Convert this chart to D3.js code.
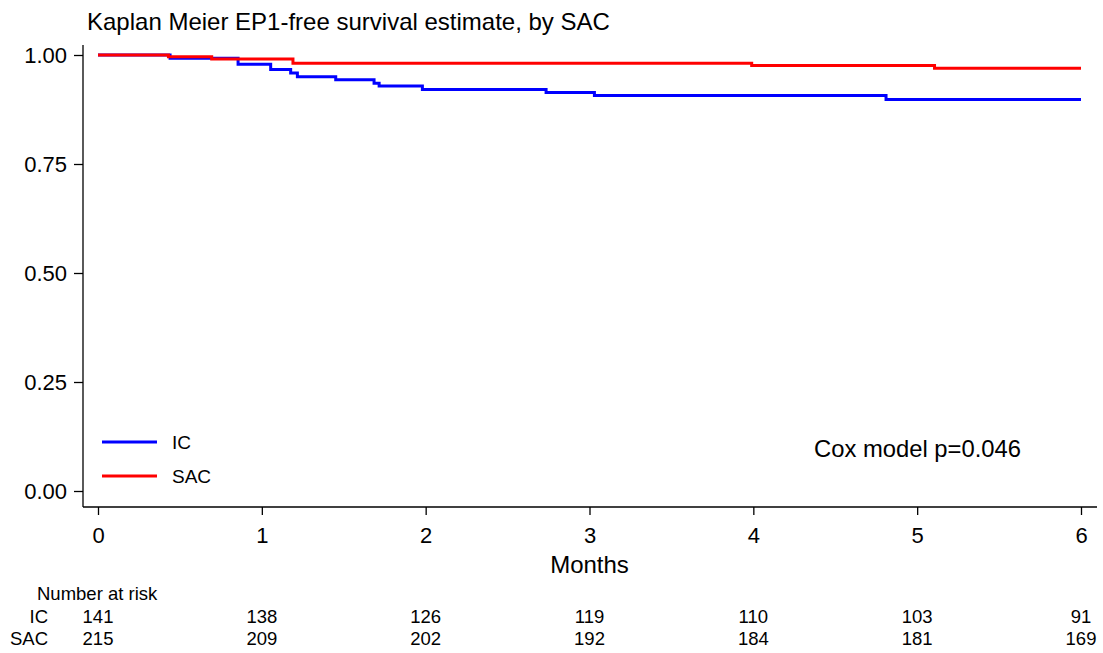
<!DOCTYPE html>
<html>
<head>
<meta charset="utf-8">
<script src="https://cdn.jsdelivr.net/npm/d3@7"></script>
<style>
  body { margin: 0; background: #fff; }
  text { font-family: "Liberation Sans", Arial, sans-serif; fill: #000; }
</style>
</head>
<body>
<div id="chart"></div>
<script>
'use strict'

// step curves: [time in months, survival]
const icSteps = [[0, 1], [0.44, 0.9925], [0.855, 0.979], [1.054, 0.967], [1.176, 0.959], [1.217, 0.950],
  [1.451, 0.943], [1.685, 0.935], [1.716, 0.929], [1.98, 0.921], [2.735, 0.914], [3.03, 0.907], [4.81, 0.898], [6, 0.898]]
const sacSteps = [[0, 1], [0.43, 0.996], [0.694, 0.991], [1.19, 0.981], [3.99, 0.976], [5.106, 0.9695], [6, 0.9695]]

const groups = ['IC', 'SAC']
const colors = ['#0000ff', '#ff0000']
const xTicks = [0, 1, 2, 3, 4, 5, 6]
const yTicks = [0, 0.25, 0.5, 0.75, 1]
const riskIC = [141, 138, 126, 119, 110, 103, 91]
const riskSAC = [215, 209, 202, 192, 184, 181, 169]

const W = 1103, H = 653

const svg = d3.select('#chart').append('svg')
  .attr('width', W).attr('height', H)

const x = d3.scaleLinear().domain([0, 6]).range([98, 1081])
const y = d3.scaleLinear().domain([0, 1]).range([491, 55])

// axes
const yAxis = svg.append('g')
  .attr('transform', 'translate(83,0)')
  .call(d3.axisLeft(y).tickValues(yTicks).tickFormat(d3.format('.2f')).tickSize(9).tickPadding(7))
yAxis.select('.domain').attr('d', 'M0,45V507')
yAxis.selectAll('text').style('font-size', '22px').attr('dy', '0.36em')

const xAxis = svg.append('g')
  .attr('transform', 'translate(0,507)')
  .call(d3.axisBottom(x).tickValues(xTicks).tickFormat(d3.format('d')).tickSize(8).tickPadding(12))
xAxis.select('.domain').attr('d', 'M83,0H1097')
xAxis.selectAll('text').style('font-size', '22px')
svg.selectAll('.domain, .tick line').attr('stroke', '#000').attr('stroke-width', 1.3)

// curves
const line = d3.line()
  .x(d => x(d[0])).y(d => y(d[1]))
  .curve(d3.curveStepAfter)

;[icSteps, sacSteps].forEach((s, i) => {
  svg.append('path')
    .datum(s)
    .attr('d', line)
    .attr('fill', 'none')
    .attr('stroke', colors[i])
    .attr('stroke-width', 3)
})

// title and labels
svg.append('text').attr('x', 87).attr('y', 30).style('font-size', '24px')
  .text('Kaplan Meier EP1-free survival estimate, by SAC')
svg.append('text').attr('x', (x(0) + x(6)) / 2).attr('y', 573).attr('text-anchor', 'middle')
  .style('font-size', '24px').text('Months')
svg.append('text').attr('x', 814).attr('y', 457).style('font-size', '23.8px')
  .text('Cox model p=0.046')

// legend
groups.forEach((g, i) => {
  const ly = 442 + i * 34
  svg.append('line').attr('x1', 102).attr('x2', 157).attr('y1', ly).attr('y2', ly)
    .attr('stroke', colors[i]).attr('stroke-width', 3)
  svg.append('text').attr('x', 172).attr('y', ly + 7).style('font-size', '19px').text(g)
})

// number at risk table
svg.append('text').attr('x', 37).attr('y', 600).style('font-size', '18.5px').text('Number at risk')
;[riskIC, riskSAC].forEach((row, i) => {
  const ry = 623 + i * 22
  svg.append('text').attr('x', 48).attr('y', ry).attr('text-anchor', 'end')
    .style('font-size', '18.5px').text(groups[i])
  svg.selectAll(null).data(row).join('text')
    .attr('x', (d, j) => x(xTicks[j]))
    .attr('y', ry)
    .attr('text-anchor', 'middle')
    .style('font-size', '18.5px')
    .text(d => d)
})
</script>
</body>
</html>
